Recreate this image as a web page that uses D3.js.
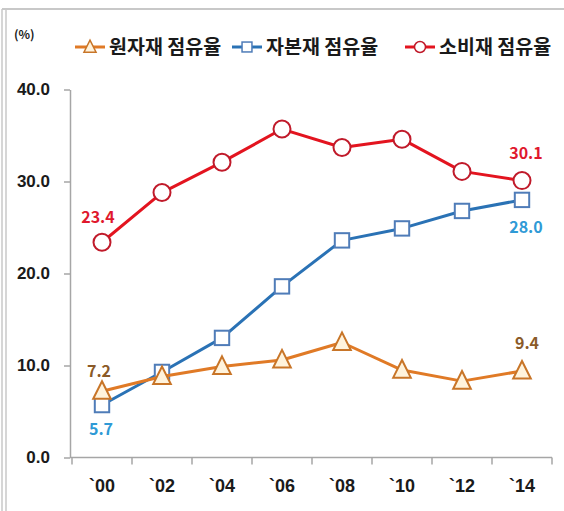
<!DOCTYPE html>
<meta charset="utf-8">
<style>
body { margin: 0; background: #fff; }
svg { display: block; font-family: "Noto Sans CJK KR", "Noto Sans", sans-serif; }
.axis path, .axis line { stroke: #a6a6a6; stroke-width: 1.5px; }
.axis text { font-size: 17px; font-weight: bold; fill: #1a1a1a; }
.xaxis text { font-size: 18px; }
</style>
<body>
<script src="https://d3js.org/d3.v7.min.js"></script>
<script>

var years = ["`00", "`02", "`04", "`06", "`08", "`10", "`12", "`14"];
var rawShare = [7.2, 8.8, 9.9, 10.6, 12.5, 9.5, 8.3, 9.4];
var capitalShare = [5.7, 9.3, 13.0, 18.6, 23.6, 24.9, 26.8, 28.0];
var consumerShare = [23.4, 28.8, 32.1, 35.7, 33.7, 34.6, 31.1, 30.1];
var yTicks = [0, 10, 20, 30, 40];
var seriesNames = ["원자재 점유율", "자본재 점유율", "소비재 점유율"];

var width = 564, height = 511;

var svg = d3.select("body").append("svg")
    .attr("width", width)
    .attr("height", height);

// frame
svg.append("line").attr("x1", 2).attr("x2", 564).attr("y1", 9).attr("y2", 9)
    .attr("stroke", "#c8c8c8").attr("stroke-width", 2);
svg.append("line").attr("x1", 2).attr("x2", 2).attr("y1", 9).attr("y2", 511)
    .attr("stroke", "#c8c8c8").attr("stroke-width", 1.5);
svg.append("line").attr("x1", 6).attr("x2", 6).attr("y1", 9).attr("y2", 511)
    .attr("stroke", "#c8c8c8").attr("stroke-width", 1.5);

var x = d3.scaleBand().domain(years).range([72, 552]);
var y = d3.scaleLinear().domain([0, 40]).range([457.5, 89.5]);
var cx = function(d, i) { return x(years[i]) + x.bandwidth() / 2; };

// y axis
var yAxis = svg.append("g")
    .attr("class", "axis")
    .attr("transform", "translate(70,0)")
    .call(d3.axisLeft(y).tickValues(yTicks).tickFormat(d3.format(".1f")).tickSize(6).tickSizeOuter(0).tickPadding(14));

// x axis: labels at centers, ticks at band edges
var xAxis = svg.append("g")
    .attr("class", "axis xaxis")
    .attr("transform", "translate(0,457.5)")
    .call(d3.axisBottom(x).tickSize(0).tickPadding(22));
xAxis.select(".domain").attr("d", "M70,0H552");
xAxis.selectAll(".edge")
    .data(years.map(function(c) { return x(c); }).concat([x.range()[1]]))
    .enter().append("line")
      .attr("class", "edge")
      .attr("x1", function(d) { return d; })
      .attr("x2", function(d) { return d; })
      .attr("y1", 0).attr("y2", 7);
xAxis.selectAll(".tick text").attr("dy", "0.71em");

// series styles
var series = [
  { name: seriesNames[0], values: rawShare, line: "#e07a26", stroke: "#c87528", fill: "#fff3dc", shape: "tri", label: "#8a5a28" },
  { name: seriesNames[1], values: capitalShare, line: "#2a72b5", stroke: "#4f7cb8", fill: "#ffffff", shape: "sq", label: "#2f9ad6" },
  { name: seriesNames[2], values: consumerShare, line: "#e3141f", stroke: "#c01a2a", fill: "#ffffff", shape: "circ", label: "#e0182d" }
];

var line = d3.line()
    .x(function(d, i) { return cx(d, i); })
    .y(function(d) { return y(d); });

function drawMarker(sel, shape, s) {
  if (shape === "circ") {
    sel.append("circle").attr("r", s * 0.5);
  } else if (shape === "sq") {
    sel.append("rect").attr("x", -s * 0.45).attr("y", -s * 0.45).attr("width", s * 0.9).attr("height", s * 0.9);
  } else {
    var h = s * 1.05, w = s * 0.55;
    sel.append("path").attr("d", "M0," + (-h * 0.6) + "L" + w + "," + (h * 0.45) + "L" + (-w) + "," + (h * 0.45) + "Z");
  }
}

// draw in order: consumer, capital, raw (raw on top at crossing)
[2, 1, 0].forEach(function(k) {
  var s = series[k];
  var g = svg.append("g");
  g.append("path")
      .datum(s.values)
      .attr("fill", "none")
      .attr("stroke", s.line)
      .attr("stroke-width", 3)
      .attr("stroke-linejoin", "round")
      .attr("d", line);
  g.selectAll(".m")
    .data(s.values)
    .enter().append("g")
      .attr("class", "m")
      .attr("transform", function(d, i) { return "translate(" + cx(d, i) + "," + y(d) + ")"; })
      .attr("fill", s.fill)
      .attr("stroke", s.stroke)
      .attr("stroke-width", 2)
      .each(function() { drawMarker(d3.select(this), s.shape, s.shape === "circ" ? 17 : 16); });
});

// data labels
var labels = [
  { v: consumerShare[0], i: 0, dx: -4, dy: -25, c: series[2].label },
  { v: consumerShare[7], i: 7, dx: 4, dy: -27, c: series[2].label },
  { v: capitalShare[0], i: 0, dx: -1, dy: 24, c: series[1].label },
  { v: capitalShare[7], i: 7, dx: 4, dy: 27, c: series[1].label },
  { v: rawShare[0], i: 0, dx: -3, dy: -20, c: series[0].label },
  { v: rawShare[7], i: 7, dx: 5, dy: -28, c: series[0].label }
];
svg.selectAll(".dl")
  .data(labels)
  .enter().append("text")
    .attr("class", "dl")
    .attr("x", function(d) { return cx(d.v, d.i) + d.dx; })
    .attr("y", function(d) { return y(d.v) + d.dy; })
    .attr("dy", "0.35em")
    .attr("text-anchor", "middle")
    .attr("font-size", 16)
    .attr("font-weight", "bold")
    .attr("fill", function(d) { return d.c; })
    .text(function(d) { return d3.format(".1f")(d.v); });

// unit
svg.append("text")
    .attr("x", 14).attr("y", 35).attr("dy", "0.35em")
    .attr("font-size", 12).attr("font-weight", "bold").attr("fill", "#1a1a1a")
    .text("(%)");

// legend
var legendX = [75, 232, 405];
var legend = svg.selectAll(".lg")
  .data(series)
  .enter().append("g")
    .attr("class", "lg")
    .attr("transform", function(d, i) { return "translate(" + legendX[i] + ",47)"; });
legend.append("line")
    .attr("x1", 0).attr("x2", 30)
    .attr("stroke", function(d) { return d.line; })
    .attr("stroke-width", 3);
legend.append("g")
    .attr("transform", "translate(15,0)")
    .attr("fill", function(d) { return d.fill; })
    .attr("stroke", function(d) { return d.stroke; })
    .attr("stroke-width", 1.5)
    .each(function(d) { drawMarker(d3.select(this), d.shape, 11); });
legend.append("text")
    .attr("x", 34)
    .attr("dy", "0.36em")
    .attr("font-size", 19.5)
    .attr("font-weight", "bold")
    .attr("fill", "#1a1a1a")
    .text(function(d) { return d.name; });

</script>
</body>
